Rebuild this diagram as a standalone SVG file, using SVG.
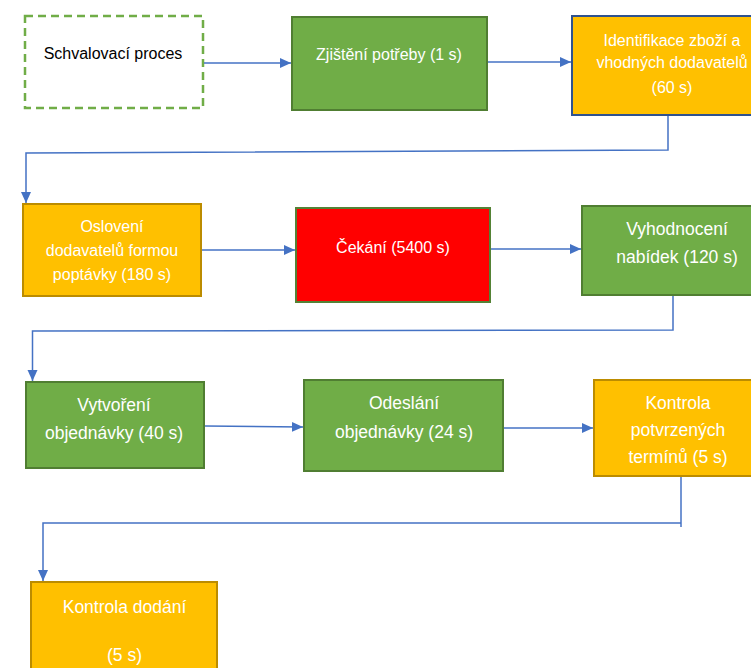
<svg xmlns="http://www.w3.org/2000/svg" width="751" height="668" viewBox="0 0 751 668">
<defs>
<marker id="ah" markerUnits="userSpaceOnUse" markerWidth="12" markerHeight="12" viewBox="0 0 12 12" refX="11" refY="6" orient="auto">
<path d="M0,1 L11,6 L0,11 Z" fill="#4472C4"/>
</marker>
<style>
.t{font-family:"Liberation Sans",Arial,sans-serif;fill:#fff;text-anchor:middle;font-size:16px}
.tl{font-size:17.5px}
.green{fill:#70AD47;stroke:#507E32;stroke-width:2}
.yel{fill:#FFC000;stroke:#BC8C00;stroke-width:2}
.c{fill:none;stroke:#4472C4;stroke-width:1.5}
</style>
</defs>
<rect width="751" height="668" fill="#fff"/>
<g id="n1">
<rect x="25" y="16" width="178" height="92" fill="#fff" stroke="#70AD47" stroke-width="2.5" stroke-dasharray="8,5"/>
<text class="t" x="113" y="59" style="fill:#000">Schvalovací proces</text>
</g>
<g id="n2">
<rect class="green" x="292" y="17" width="195" height="93"/>
<text class="t" x="389" y="60">Zjištění potřeby (1 s)</text>
</g>
<g id="n3">
<rect x="572" y="16" width="200" height="99" fill="#FFC000" stroke="#2F528F" stroke-width="2"/>
<text class="t" x="672" y="46">Identifikace zboží a</text>
<text class="t" x="672" y="68">vhodných dodavatelů</text>
<text class="t" x="672" y="93">(60 s)</text>
</g>
<g id="n4">
<rect class="yel" x="23" y="204" width="178" height="92"/>
<text class="t" x="112" y="232">Oslovení</text>
<text class="t" x="112" y="256">dodavatelů formou</text>
<text class="t" x="112" y="280">poptávky (180 s)</text>
</g>
<g id="n5">
<rect x="296" y="208" width="194" height="94" fill="#FF0000" stroke="#548235" stroke-width="2"/>
<text class="t" x="393" y="253">Čekání (5400 s)</text>
</g>
<g id="n6">
<rect class="green" x="582" y="206" width="194" height="89"/>
<text class="t tl" x="677" y="235">Vyhodnocení</text>
<text class="t tl" x="677" y="263">nabídek (120 s)</text>
</g>
<g id="n7">
<rect class="green" x="26" y="382" width="178" height="86"/>
<text class="t tl" x="114" y="411">Vytvoření</text>
<text class="t tl" x="114" y="439">objednávky (40 s)</text>
</g>
<g id="n8">
<rect class="green" x="304" y="380" width="199" height="91"/>
<text class="t tl" x="404" y="409">Odeslání</text>
<text class="t tl" x="404" y="438">objednávky (24 s)</text>
</g>
<g id="n9">
<rect class="yel" x="594" y="380" width="168" height="96"/>
<text class="t tl" x="678" y="409">Kontrola</text>
<text class="t tl" x="678" y="436">potvrzených</text>
<text class="t tl" x="678" y="463">termínů (5 s)</text>
</g>
<g id="n10">
<rect class="yel" x="31" y="582" width="186" height="100"/>
<text class="t tl" x="124.5" y="613">Kontrola dodání</text>
<text class="t tl" x="124.5" y="661">(5 s)</text>
</g>
<g id="connectors">
<line class="c" x1="204" y1="63" x2="291" y2="63" marker-end="url(#ah)"/>
<line class="c" x1="488" y1="62" x2="571" y2="62" marker-end="url(#ah)"/>
<polyline class="c" points="668,116 668,150 26,153 26,203" marker-end="url(#ah)"/>
<line class="c" x1="202" y1="250" x2="295" y2="250" marker-end="url(#ah)"/>
<line class="c" x1="491" y1="249" x2="581" y2="249" marker-end="url(#ah)"/>
<polyline class="c" points="673,296 673,330 32.5,331 32.5,381" marker-end="url(#ah)"/>
<line class="c" x1="205" y1="426" x2="303" y2="427" marker-end="url(#ah)"/>
<line class="c" x1="504" y1="428" x2="593" y2="428" marker-end="url(#ah)"/>
<line class="c" x1="681" y1="477" x2="681" y2="527"/>
<polyline class="c" points="681,523 43,523 43,581" marker-end="url(#ah)"/>
</g>
</svg>
